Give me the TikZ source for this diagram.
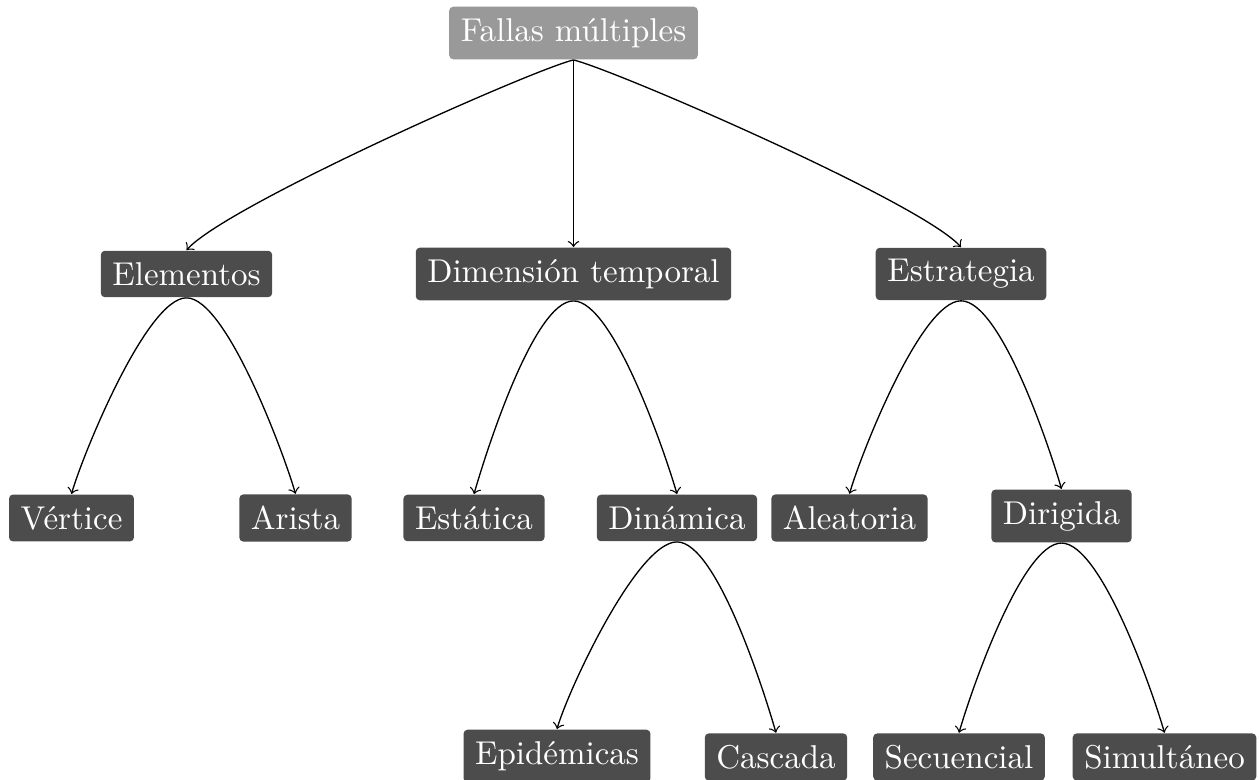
\documentclass[tikz,border=0pt]{standalone}
\begin{document}
\begin{tikzpicture}[x=0.303pt,y=-0.303pt,
  box/.style={rectangle, rounded corners=1.2pt, fill=black!70, text=white, inner sep=3.5pt},
  rootbox/.style={box, fill=black!40},
  arr/.style={->}]
\useasboundingbox (0,0) rectangle (1260,780);
% root
\node[rootbox] (root) at (573.5,33) {Fallas múltiples};
% level 1
\node[box] (elem) at (186.5,274) {Elementos};
\node[box] (dim) at (573.5,274) {Dimensión temporal};
\node[box] (estr) at (961,274) {Estrategia};
% level 2
\node[box] (vert) at (71.5,518) {Vértice};
\node[box] (aris) at (295.5,518) {Arista};
\node[box] (esta) at (474,518) {Estática};
\node[box] (dina) at (677,518) {Dinámica};
\node[box] (alea) at (849.5,518) {Aleatoria};
\node[box] (diri) at (1061.5,516) {Dirigida};
% level 3
\node[box] (epid) at (557,756) {Epidémicas};
\node[box] (casc) at (776,757) {Cascada};
\node[box] (secu) at (959,757) {Secuencial};
\node[box] (simu) at (1164.5,757) {Simultáneo};
% edges
\draw[arr] (root.south) .. controls +(-43.7,10.9) and +(40.1,-44.6) .. (elem.north);
\draw[arr] (root.south) -- (dim.north);
\draw[arr] (root.south) .. controls +(43.7,10.9) and +(-40.1,-44.6) .. (estr.north);
\draw[arr] (elem.south) .. controls +(-40,0) and +(11,-38.4) .. (vert.north);
\draw[arr] (elem.south) .. controls +(40,0) and +(-11,-38.4) .. (aris.north);
\draw[arr] (dim.south) .. controls +(-40,0) and +(11,-38.4) .. (esta.north);
\draw[arr] (dim.south) .. controls +(40,0) and +(-11,-38.4) .. (dina.north);
\draw[arr] (estr.south) .. controls +(-40,0) and +(11,-38.4) .. (alea.north);
\draw[arr] (estr.south) .. controls +(40,0) and +(-11,-38.4) .. (diri.north);
\draw[arr] (dina.south) .. controls +(-40,0) and +(11,-38.4) .. (epid.north);
\draw[arr] (dina.south) .. controls +(40,0) and +(-11,-38.4) .. (casc.north);
\draw[arr] (diri.south) .. controls +(-40,0) and +(11,-38.4) .. (secu.north);
\draw[arr] (diri.south) .. controls +(40,0) and +(-11,-38.4) .. (simu.north);
\end{tikzpicture}
\end{document}
